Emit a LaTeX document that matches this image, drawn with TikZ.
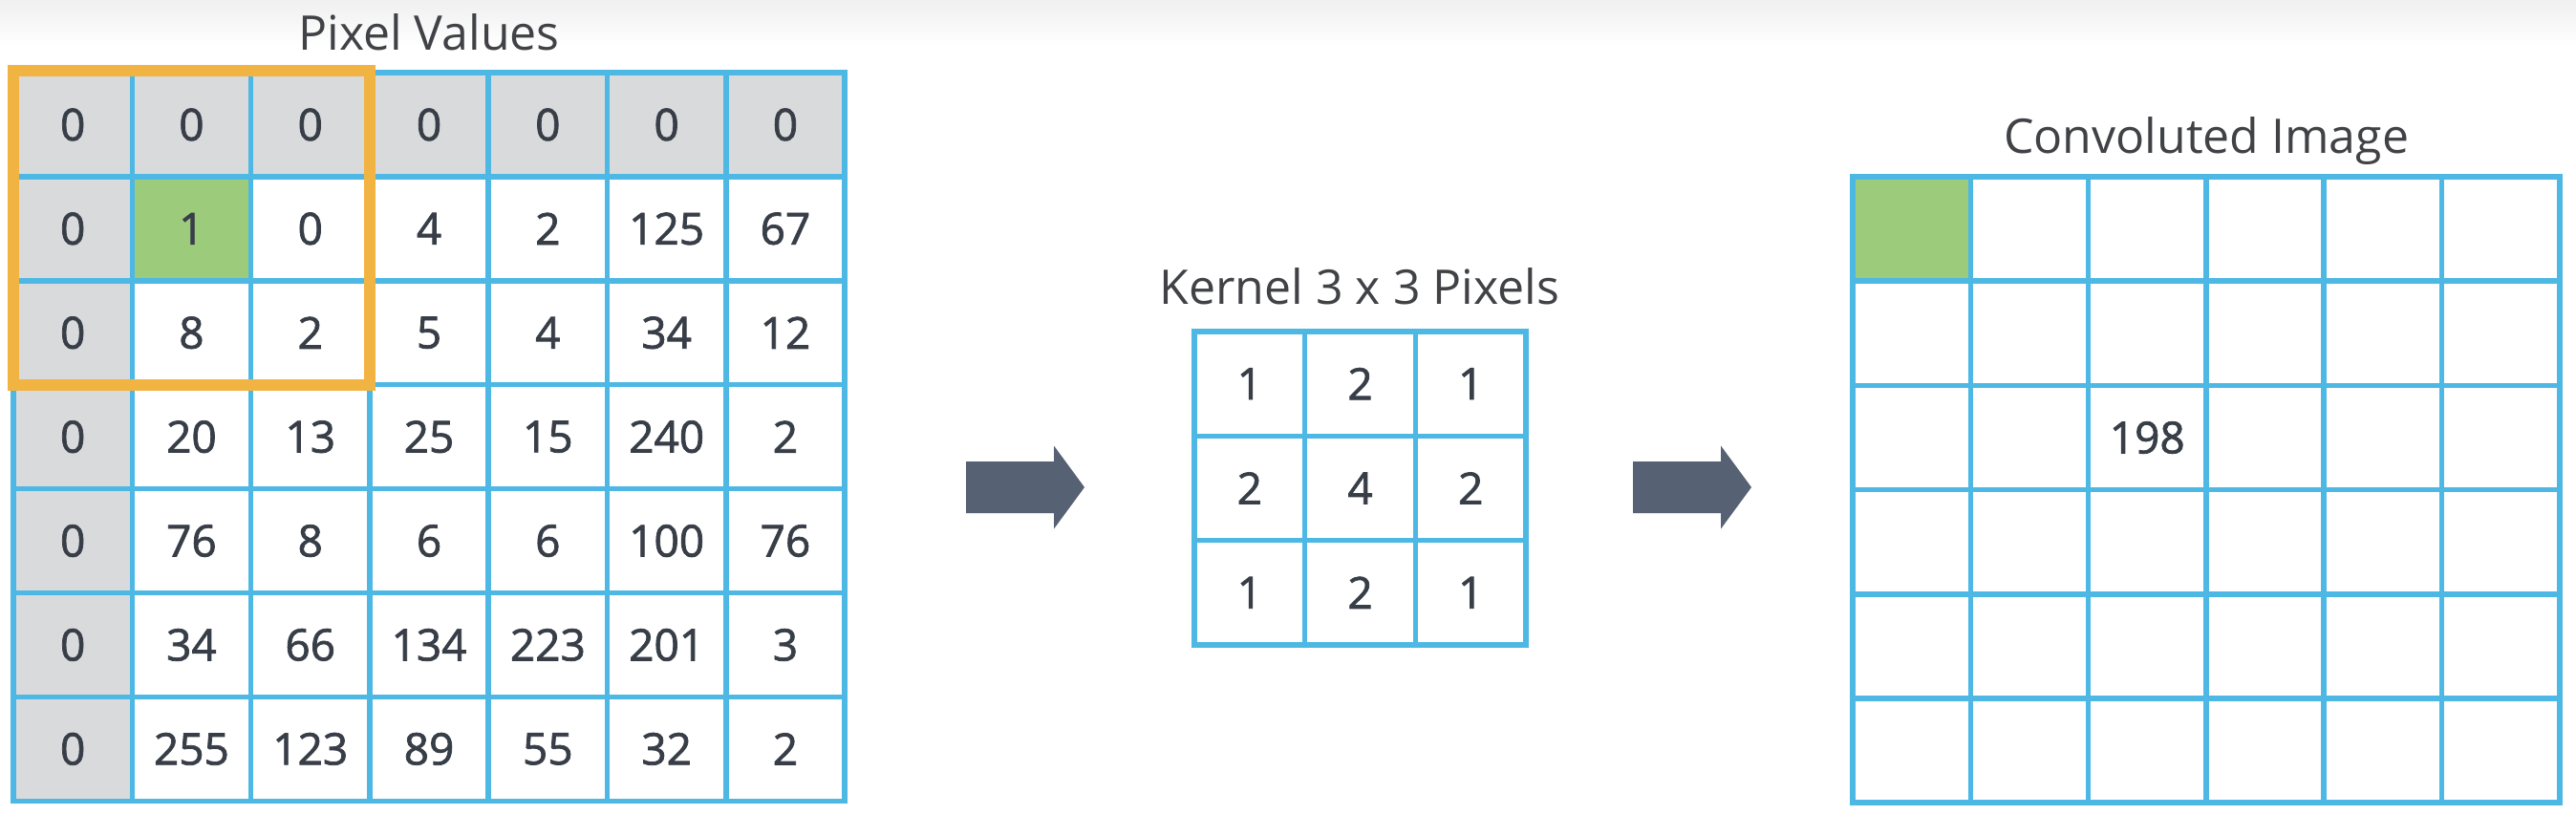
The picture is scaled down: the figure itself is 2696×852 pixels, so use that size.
\documentclass[tikz,border=0pt]{standalone}
\usepackage{fontspec}
\setmainfont{Open Sans}
\newfontfamily\numfont[FakeBold=1.6]{Open Sans}
\usetikzlibrary{backgrounds}
\definecolor{gridblue}{HTML}{4DB8E4}
\definecolor{cellgray}{HTML}{D9DADC}
\definecolor{cellgreen}{HTML}{9CCB7C}
\definecolor{boxorange}{HTML}{F1B443}
\definecolor{arrowgray}{HTML}{566174}
\definecolor{numcolor}{HTML}{383E47}
\definecolor{titlecolor}{HTML}{404246}
\begin{document}
\begin{tikzpicture}[x=1pt,y=-1pt,
  cellbox/.style={minimum width=#1, inner sep=0pt, outer sep=0pt,
    font=\numfont\fontsize{46}{50}\selectfont, text=numcolor},
  gridline/.style={draw=gridblue, line width=5.5pt, line join=miter},
  orangebox/.style={draw=boxorange, line width=12pt, line join=miter},
  titletext/.style={anchor=base, inner sep=0pt, text=titlecolor,
    font=\fontsize{50}{56}\selectfont},
  blockarrow/.style={fill=arrowgray}]
\useasboundingbox (0,0) rectangle (2696,852);

% ---------- Pixel Values grid ----------
\foreach \row [count=\r from 0] in
  {{0,0,0,0,0,0,0},{0,1,0,4,2,125,67},{0,8,2,5,4,34,12},{0,20,13,25,15,240,2},
   {0,76,8,6,6,100,76},{0,34,66,134,223,201,3},{0,255,123,89,55,32,2}}{
  \foreach \v [count=\c from 0] in \row {
    \node[cellbox=124.3pt, minimum height=108.9pt] (p-\r-\c)
      at ({14+124.3*(\c+0.5)},{76+108.9*(\r+0.5)}) {\v};
  }
}
% ---------- Kernel grid ----------
\foreach \row [count=\r from 0] in {{1,2,1},{2,4,2},{1,2,1}}{
  \foreach \v [count=\c from 0] in \row {
    \node[cellbox=115.7pt, minimum height=109.3pt] (k-\r-\c)
      at ({1250+115.7*(\c+0.5)},{347+109.3*(\r+0.5)}) {\v};
  }
}
% ---------- Convoluted image grid ----------
\foreach \r in {0,...,5}{
  \foreach \c in {0,...,5}{
    \node[cellbox=123.3pt, minimum height=109.2pt] (c-\r-\c)
      at ({1939+123.3*(\c+0.5)},{185+109.2*(\r+0.5)}) {\ifnum\r=2 \ifnum\c=2 198\fi\fi};
  }
}

% ---------- fills ----------
\begin{scope}[on background layer]
  \fill[white] (0,0) rectangle (2696,852);
  \shade[top color=black!6, bottom color=white] (0,0) rectangle (2696,48);
  \fill[cellgray] (p-0-0.north west) rectangle (p-0-6.south east);
  \fill[cellgray] (p-0-0.north west) rectangle (p-6-0.south east);
  \fill[cellgreen] (p-1-1.north west) rectangle (p-1-1.south east);
  \fill[cellgreen] (c-0-0.north west) rectangle (c-0-0.south east);
\end{scope}

% ---------- grid lines ----------
\foreach \r in {0,...,6}{\foreach \c in {0,...,6}{
  \draw[gridline] (p-\r-\c.north west) rectangle (p-\r-\c.south east);}}
\foreach \r in {0,...,2}{\foreach \c in {0,...,2}{
  \draw[gridline] (k-\r-\c.north west) rectangle (k-\r-\c.south east);}}
\foreach \r in {0,...,5}{\foreach \c in {0,...,5}{
  \draw[gridline] (c-\r-\c.north west) rectangle (c-\r-\c.south east);}}

% ---------- orange window ----------
\draw[orangebox] ([yshift=2pt]p-0-0.north west) rectangle (p-2-2.south east);

% ---------- titles ----------
\node[titletext] (t-pix) at (449,52) {Pixel Values};
\node[titletext] (t-ker) at (1423,318) {Kernel 3 x 3 Pixels};
\node[titletext] (t-con) at (2309,160) {Convoluted Image};

% ---------- block arrows ----------
\coordinate (arrA) at (1011,510);
\coordinate (arrB) at (1709,510);
\foreach \a in {arrA,arrB}{
  \fill[blockarrow] ([yshift=27pt]\a) -- ++(92,0) -- ++(0,-16.5) -- ++(32,43.5)
    -- ++(-32,43.5) -- ++(0,-16.5) -- ++(-92,0) -- cycle;
}
\end{tikzpicture}
\end{document}
